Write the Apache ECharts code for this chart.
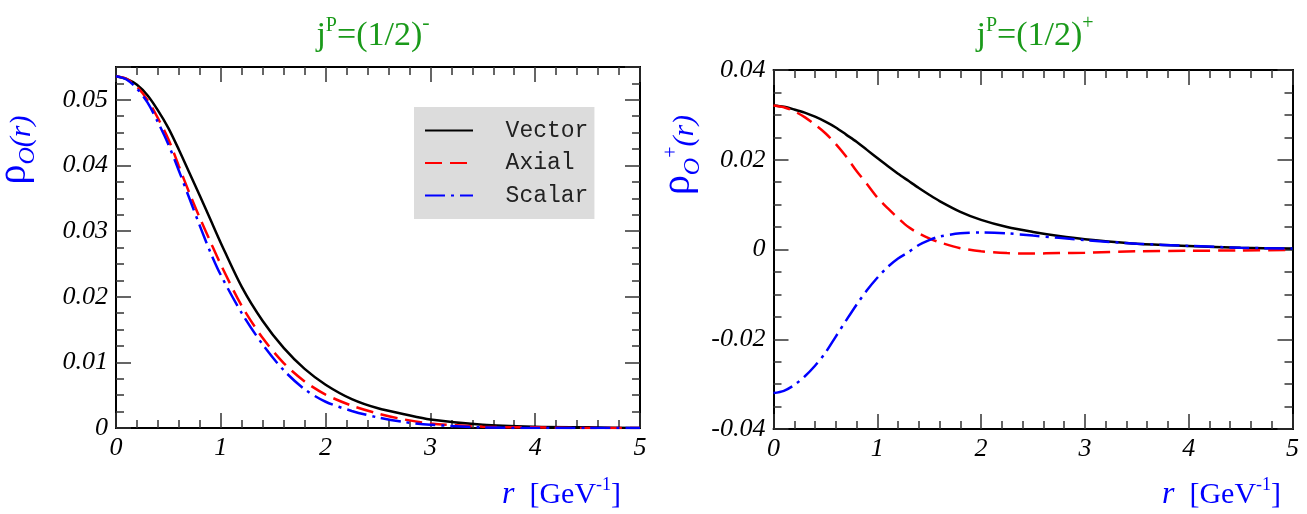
<!DOCTYPE html>
<html>
<head>
<meta charset="utf-8">
<script src="https://cdn.jsdelivr.net/npm/echarts@6/dist/echarts.min.js"></script>
<style>
html, body { margin: 0; padding: 0; background: #fff; }
#chart { width: 1307px; height: 514px; }
</style>
</head>
<body>
<div id="chart"></div>
<script>
// r values [GeV^-1] and densities
var rMinus = [0, 0.1, 0.2, 0.3, 0.4, 0.5, 0.6, 0.7, 0.8, 0.9, 1.0, 1.2, 1.4, 1.6, 1.8, 2.0, 2.25, 2.5, 2.75, 3.0, 3.5, 4.0, 4.5, 5.0];
var vectorMinus = [0.0536, 0.0532, 0.0523, 0.0507, 0.0484, 0.0457, 0.0424, 0.0389, 0.0354, 0.0318, 0.0282, 0.0215, 0.0163, 0.0122, 0.0090, 0.0066, 0.0044, 0.0030, 0.0021, 0.0013, 0.0005, 0.0002, 0.0001, 0.0000];
var axialMinus = [0.0536, 0.0532, 0.0520, 0.0500, 0.0472, 0.0440, 0.0399, 0.0358, 0.0320, 0.0284, 0.0249, 0.0186, 0.0137, 0.0099, 0.0071, 0.0051, 0.0034, 0.0022, 0.0013, 0.0007, 0.0002, 0.0001, 0.0000, 0.0000];
var scalarMinus = [0.0536, 0.0531, 0.0517, 0.0496, 0.0466, 0.0432, 0.0392, 0.0350, 0.0308, 0.0268, 0.0233, 0.0175, 0.0127, 0.0088, 0.0059, 0.0040, 0.0026, 0.0016, 0.0009, 0.0005, 0.0001, 0.0000, 0.0000, 0.0000];

var rPlus = [0, 0.1, 0.2, 0.3, 0.4, 0.5, 0.6, 0.7, 0.8, 0.9, 1.0, 1.1, 1.2, 1.3, 1.4, 1.5, 1.6, 1.8, 2.0, 2.25, 2.5, 2.75, 3.0, 3.5, 4.0, 4.5, 5.0];
var vectorPlus = [0.0321, 0.0318, 0.0312, 0.0305, 0.0296, 0.0285, 0.0272, 0.0256, 0.0240, 0.0222, 0.0204, 0.0186, 0.0169, 0.0153, 0.0137, 0.0122, 0.0108, 0.0084, 0.0066, 0.0050, 0.0039, 0.0030, 0.0023, 0.0013, 0.0008, 0.0004, 0.0002];
var axialPlus = [0.0321, 0.0317, 0.0308, 0.0295, 0.0278, 0.0259, 0.0235, 0.0207, 0.0175, 0.0146, 0.0116, 0.0092, 0.0070, 0.0050, 0.0036, 0.0025, 0.0016, 0.0003, -0.0004, -0.0008, -0.0009, -0.0008, -0.0007, -0.0004, -0.0003, -0.0002, -0.0001];
var scalarPlus = [-0.0320, -0.0315, -0.0302, -0.0283, -0.0259, -0.0230, -0.0194, -0.0158, -0.0123, -0.0091, -0.0063, -0.0039, -0.0020, -0.0006, 0.0010, 0.0021, 0.0029, 0.0036, 0.0038, 0.0036, 0.0031, 0.0026, 0.0021, 0.0013, 0.0008, 0.0004, 0.0002];

var xLabels = ['0', '1', '2', '3', '4', '5'];
var yLabelsMinus = ['0', '0.01', '0.02', '0.03', '0.04', '0.05'];
var yLabelsPlus = ['-0.04', '-0.02', '0', '0.02', '0.04'];
var names = ['Vector', 'Axial', 'Scalar'];

var serif = '"Liberation Serif", "Times New Roman", serif';
var mono = '"Liberation Mono", "Courier New", monospace';
var green = '#1a9a1a';
var blue = '#0000ff';

var tickLabel = { fontFamily: serif, fontStyle: 'italic', fontSize: 26, color: '#000' };
var frameLine = { show: true, onZero: false, lineStyle: { color: '#000', width: 2 } };
var tickLine = { color: '#333', width: 1.5 };

function pairs(xs, ys) {
    return xs.map(function (x, i) { return [x, ys[i]]; });
}

function labelFrom(list, min, step) {
    return function (v) {
        var i = Math.round((v - min) / step);
        if (Math.abs(v - (min + i * step)) > 1e-9 || i < 0 || i >= list.length) return '';
        return list[i];
    };
}

function xAxis(grid, pos) {
    return {
        type: 'value', gridIndex: grid, position: pos, min: 0, max: 5, interval: 1,
        axisLine: frameLine,
        axisTick: { inside: true, length: 15, lineStyle: tickLine },
        minorTick: { show: true, splitNumber: 5, length: 8, lineStyle: tickLine },
        axisLabel: pos === 'bottom'
            ? Object.assign({ margin: 7, formatter: labelFrom(xLabels, 0, 1) }, tickLabel)
            : { show: false },
        splitLine: { show: false }
    };
}

function yAxis(grid, pos, ext, step, len, labels) {
    return {
        type: 'value', gridIndex: grid, position: pos, min: ext[0], max: ext[1], interval: step,
        axisLine: frameLine,
        axisTick: { inside: true, length: len, lineStyle: tickLine },
        axisLabel: labels
            ? Object.assign({ margin: 8, formatter: labelFrom(labels, ext[0], step) }, tickLabel)
            : { show: false },
        splitLine: { show: false }
    };
}

var lineStyles = [
    { color: '#000', width: 2.5, type: 'solid' },
    { color: '#ff0000', width: 2.5, type: [17, 8] },
    { color: blue, width: 2.5, type: [20, 6, 3, 6] }
];

function series(name, k, xi, yi, xs, ys) {
    return {
        name: name, type: 'line', xAxisIndex: xi, yAxisIndex: yi,
        data: pairs(xs, ys), smooth: 0.3, symbol: 'none',
        color: lineStyles[k].color, lineStyle: lineStyles[k]
    };
}

// text with sub/superscripts: pieces are [text, size, italic, baseline shift]
var measureCtx = document.createElement('canvas').getContext('2d');
function fontOf(p) {
    return (p[2] ? 'italic ' : '') + p[1] + 'px ' + serif;
}
function label(x, y, pieces, color, anchor, rot) {
    var widths = pieces.map(function (p) {
        measureCtx.font = fontOf(p);
        return measureCtx.measureText(p[0]).width;
    });
    var total = widths.reduce(function (a, b) { return a + b; }, 0);
    var pos = anchor === 'center' ? -total / 2 : 0;
    var children = pieces.map(function (p, i) {
        var el = {
            type: 'text', x: pos, y: p[3] - 0.33 * p[1],
            style: { text: p[0], font: fontOf(p), fill: color, align: 'left', verticalAlign: 'middle' }
        };
        pos += widths[i];
        return el;
    });
    return { type: 'group', x: x, y: y, rotation: rot || 0, children: children };
}

var chart = echarts.init(document.getElementById('chart'));
var option = {
    animation: false,
    backgroundColor: '#fff',
    grid: [
        { left: 116, top: 67, width: 524, height: 361 },
        { left: 773.5, top: 70, width: 519, height: 359 }
    ],
    xAxis: [xAxis(0, 'bottom'), xAxis(0, 'top'), xAxis(1, 'bottom'), xAxis(1, 'top')],
    yAxis: [
        yAxis(0, 'left', [0, 0.055], 0.01, 15, yLabelsMinus),
        yAxis(0, 'left', [0, 0.055], 0.0025, 8),
        yAxis(0, 'right', [0, 0.055], 0.01, 15),
        yAxis(0, 'right', [0, 0.055], 0.0025, 8),
        yAxis(1, 'left', [-0.04, 0.04], 0.02, 15, yLabelsPlus),
        yAxis(1, 'left', [-0.04, 0.04], 0.005, 8),
        yAxis(1, 'right', [-0.04, 0.04], 0.02, 15),
        yAxis(1, 'right', [-0.04, 0.04], 0.005, 8)
    ],
    legend: {
        data: names,
        orient: 'vertical',
        left: 414, top: 107,
        backgroundColor: '#dcdcdc',
        padding: [12, 6, 12, 10],
        itemWidth: 48, itemHeight: 14, itemGap: 9.5,
        selectedMode: false,
        itemStyle: { opacity: 0 },
        formatter: '  {name}',
        textStyle: { fontFamily: mono, fontSize: 23, color: '#222', lineHeight: 22 }
    },
    graphic: [
        label(373, 47, [['j', 34, false, 0], ['P', 20, false, -15], ['=(1/2)', 34, false, 0], ['-', 22, false, -17]], green, 'center'),
        label(1035, 47, [['j', 34, false, 0], ['P', 20, false, -15], ['=(1/2)', 34, false, 0], ['+', 20, false, -17]], green, 'center'),
        label(28, 150, [['ρ', 40, false, 0], ['O', 24, true, 8], ['(r)', 30, true, 4]], blue, 'center', Math.PI / 2),
        label(692, 155, [['ρ', 40, false, 0], ['O', 24, true, 9], ['+', 20, false, -14], ['(r)', 30, true, 3]], blue, 'center', Math.PI / 2),
        label(502, 505, [['r', 32, true, 0], ['  [GeV', 30, false, 0], ['-1', 18, false, -14], [']', 30, false, 0]], blue, 'left'),
        label(1162, 505, [['r', 32, true, 0], ['  [GeV', 30, false, 0], ['-1', 18, false, -14], [']', 30, false, 0]], blue, 'left')
    ],
    series: [
        series(names[0], 0, 0, 0, rMinus, vectorMinus),
        series(names[1], 1, 0, 0, rMinus, axialMinus),
        series(names[2], 2, 0, 0, rMinus, scalarMinus),
        series(names[0], 0, 2, 4, rPlus, vectorPlus),
        series(names[1], 1, 2, 4, rPlus, axialPlus),
        series(names[2], 2, 2, 4, rPlus, scalarPlus)
    ]
};
chart.setOption(option);
</script>
</body>
</html>
